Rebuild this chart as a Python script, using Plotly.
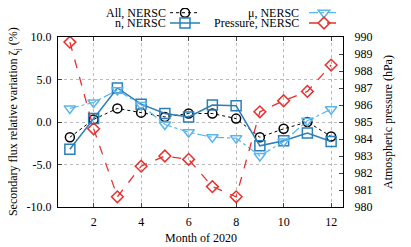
import plotly.graph_objects as go

months = [1, 2, 3, 4, 5, 6, 7, 8, 9, 10, 11, 12]
all_nersc = [-1.8, 0.3, 1.6, 1.1, 0.6, 1.0, 1.0, 0.4, -1.8, -0.8, 0.0, -1.7]
n_nersc = [-3.2, 0.4, 4.0, 2.1, 1.0, 0.6, 2.0, 1.9, -2.8, -2.2, -1.3, -2.3]
mu_nersc = [1.6, 2.3, 3.75, 2.0, -0.3, -1.2, -1.8, -1.9, -4.0, -2.3, 0.15, 1.5]
pressure = [989.7, 984.6, 980.6, 982.4, 983.0, 982.8, 981.2, 980.6, 985.6, 986.25, 986.8, 988.35]

series_names = ["All, NERSC", "n, NERSC", "μ, NERSC", "Pressure, NERSC"]
left_ticks = [-10, -5, 0, 5, 10]
left_labels = ["-10.0", "-5.0", "0.0", "5.0", "10.0"]
x_title = "Month of 2020"
y_title = "Secondary flux relative variation ζ<sub>j</sub> (%)"
y2_title = "Atmospheric pressure (hPa)"

FONT = "Liberation Serif"
BLACK = "black"
BLUE = "#2a7fba"
LBLUE = "#5bb5ea"
RED = "#e8302e"

W, H = 411, 247
OFF = 8  # page body margin of the written html

fig = go.Figure()
fig.add_trace(go.Scatter(
    x=months, y=all_nersc, name=" ", mode="lines+markers", legend="legend",
    line=dict(color=BLACK, width=1, dash="dot"),
    marker=dict(symbol="circle-open", size=9, color=BLACK, line=dict(width=1.5))))
fig.add_trace(go.Scatter(
    x=months, y=n_nersc, name=" ", mode="lines+markers", legend="legend2",
    line=dict(color=BLUE, width=1.5),
    marker=dict(symbol="square-open", size=10, color=BLUE, line=dict(width=1.5))))
fig.add_trace(go.Scatter(
    x=months, y=mu_nersc, name=" ", mode="lines+markers", legend="legend3",
    line=dict(color=LBLUE, width=1.2, dash="dashdot"),
    marker=dict(symbol="triangle-down-open", size=10, color=LBLUE, line=dict(width=1.5))))
fig.add_trace(go.Scatter(
    x=months, y=pressure, name=" ", mode="lines+markers", yaxis="y2", legend="legend4",
    line=dict(color=RED, width=1.3, dash="dash"),
    marker=dict(symbol="diamond-open", size=9, color=RED, line=dict(width=1.5))))

legend_common = dict(orientation="v", xref="container", yref="container",
                     xanchor="left", yanchor="middle",
                     font=dict(size=6, family=FONT), bgcolor="rgba(0,0,0,0)",
                     itemwidth=30, tracegroupgap=0)

row1_y = 1 - (12.7 - OFF) / H
row2_y = 1 - (23.0 - OFF) / H
col1_x = (165 - OFF) / W
col2_x = (304 - OFF) / W

# legend label texts placed to the left of their samples (gnuplot style)
label_pos = [(0.386, 1.143), (0.386, 1.082), (0.8526, 1.143), (0.8526, 1.082)]
annotations = [dict(text=t, x=px, y=py, xref="paper", yref="paper",
                    xanchor="right", yanchor="middle", showarrow=False,
                    font=dict(size=12, family=FONT, color="black"))
               for t, (px, py) in zip(series_names, label_pos)]
# axis titles
annotations += [
    dict(text=x_title, x=0.5, y=-0.182, xref="paper", yref="paper",
         xanchor="center", yanchor="middle", showarrow=False,
         font=dict(size=12, family=FONT, color="black")),
    dict(text=y_title, x=-0.154, y=0.5, xref="paper", yref="paper",
         xanchor="center", yanchor="middle", showarrow=False, textangle=-90,
         font=dict(size=12, family=FONT, color="black")),
    dict(text=y2_title, x=1.158, y=0.5, xref="paper", yref="paper",
         xanchor="center", yanchor="middle", showarrow=False, textangle=-90,
         font=dict(size=12, family=FONT, color="black")),
]

fig.update_layout(
    width=W, height=H,
    margin=dict(l=58 - OFF, r=68 + OFF, t=37 - OFF, b=40 + OFF, autoexpand=False),
    plot_bgcolor="white", paper_bgcolor="white",
    font=dict(family=FONT, size=12, color="black"),
    showlegend=True,
    legend=dict(x=col1_x, y=row1_y, **legend_common),
    legend2=dict(x=col1_x, y=row2_y, **legend_common),
    legend3=dict(x=col2_x, y=row1_y, **legend_common),
    legend4=dict(x=col2_x, y=row2_y, **legend_common),
    annotations=annotations,
    xaxis=dict(range=[0.5, 12.5], tickvals=[2, 4, 6, 8, 10, 12],
               ticks="inside", ticklen=4, mirror="ticks", showline=True,
               linecolor="black", linewidth=1, showgrid=True,
               gridcolor="#bbbbbb", griddash="dot", gridwidth=1,
               zeroline=False, ticklabelstandoff=4),
    yaxis=dict(range=[-10, 10], tickvals=left_ticks, ticktext=left_labels,
               ticks="inside", ticklen=4, showline=True, linecolor="black",
               linewidth=1, showgrid=True, gridcolor="#bbbbbb", griddash="dot",
               gridwidth=1, zeroline=False, ticklabelstandoff=3),
    yaxis2=dict(range=[980, 990], dtick=1, overlaying="y", side="right",
                ticks="inside", ticklen=4, showline=True, linecolor="black",
                linewidth=1, showgrid=False, zeroline=False, ticklabelstandoff=8),
)

fig.write_html("out.html", config={"displayModeBar": False})
